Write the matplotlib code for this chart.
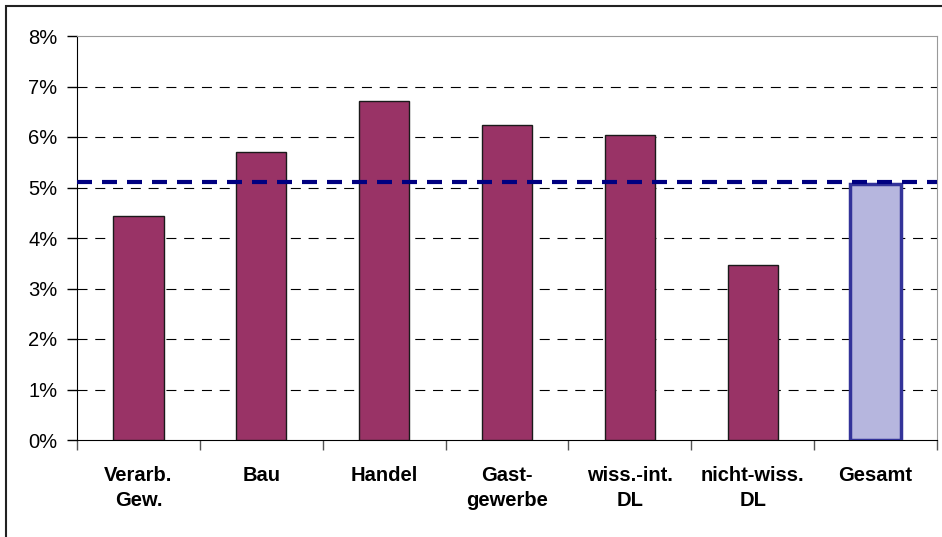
import matplotlib
matplotlib.use('Agg')
import matplotlib.pyplot as plt
from matplotlib.patches import Rectangle
import numpy as np

categories = ['Verarb.\nGew.', 'Bau', 'Handel', 'Gast-\ngewerbe',
              'wiss.-int.\nDL', 'nicht-wiss.\nDL', 'Gesamt']
values = [4.43, 5.70, 6.72, 6.24, 6.03, 3.46, 5.07]
average = 5.1
yticks = [0, 1, 2, 3, 4, 5, 6, 7, 8]

plt.rcParams['font.family'] = ['Liberation Sans', 'DejaVu Sans']

fig = plt.figure(figsize=(9.42, 5.37), dpi=100)
ax = fig.add_axes([77/942, 1-440/537, 860/942, 404/537])

x = np.arange(len(categories))
colors = ['#993366'] * (len(categories) - 1) + ['#b6b6de']
edges = ['#1a1a1a'] * (len(categories) - 1) + ['#333399']
widths = [1.0] * (len(categories) - 1) + [2.5]
ax.bar(x, values, width=0.41, color=colors, edgecolor=edges, linewidth=widths, zorder=3)

# average line
ax.axhline(average, color='#000080', linewidth=3.0, linestyle=(0, (3.6, 2.4)), zorder=4, clip_on=False)

ax.set_xlim(-0.5, len(categories) - 0.5)
ax.set_ylim(0, 8)
ax.set_yticks(yticks)
ax.set_yticklabels(['%d%%' % v for v in yticks], fontsize=14.5)
for v in yticks[1:-1]:
    ax.axhline(v, color='black', linewidth=0.8, linestyle=(0, (9, 7)), zorder=1)

ax.set_xticks(np.arange(len(categories) + 1) - 0.5)
ax.set_xticklabels([])
ax.set_xticks(x, categories, minor=True, fontsize=14.5, fontweight='bold')
for t in ax.get_xticklabels(minor=True):
    t.set_linespacing(1.4)
ax.tick_params(axis='x', which='major', length=7, width=1, color='#555555', direction='out')
ax.tick_params(axis='x', which='minor', length=0, pad=19)
ax.tick_params(axis='y', length=7, width=1, pad=7, direction='out')

ax.spines['left'].set_color('black')
ax.spines['bottom'].set_color('black')
ax.spines['top'].set_color('#999999')
ax.spines['right'].set_color('#999999')

# outer frame
fig.patches.append(Rectangle((6/942, -0.05), 1.1, 531/537 + 0.05, transform=fig.transFigure,
                             fill=False, edgecolor='#222222', linewidth=1.5))

fig.savefig('out.png', dpi=100)
